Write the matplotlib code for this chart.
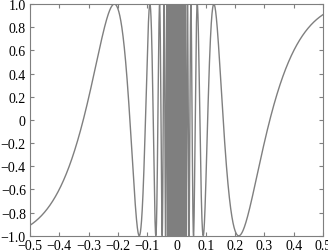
import numpy as np
import matplotlib
matplotlib.use("Agg")
import matplotlib.pyplot as plt

# plotted function: y = sin(1/x) on [-0.5, 0.5]
x_lo = -0.5
x_hi = 0.5
n_samples = 40001
x_ticks = [-0.5, -0.4, -0.3, -0.2, -0.1, 0, 0.1, 0.2, 0.3, 0.4, 0.5]
x_labels = ["\u22120.5", "\u22120.4", "\u22120.3", "\u22120.2", "\u22120.1", "0",
            "0.1", "0.2", "0.3", "0.4", "0.5"]
y_ticks = [-1.0, -0.8, -0.6, -0.4, -0.2, 0, 0.2, 0.4, 0.6, 0.8, 1.0]
y_labels = ["\u22121.0", "\u22120.8", "\u22120.6", "\u22120.4", "\u22120.2", "0",
            "0.2", "0.4", "0.6", "0.8", "1.0"]

x = np.linspace(x_lo, x_hi, n_samples)
x = x[x != 0]
y = np.sin(1.0 / x)

plt.rcParams['font.family'] = ['Liberation Serif', 'DejaVu Serif']
gray = '#7f7f7f'

fig = plt.figure(figsize=(3.28, 2.53), dpi=100)
ax = fig.add_axes([0.0915, 0.064, 0.8935, 0.916])
ax.plot(x, y, color=gray, linewidth=1.0)

ax.set_xlim(x_lo, x_hi)
ax.set_ylim(-1, 1)
ax.set_xticks(x_ticks)
ax.set_xticklabels(x_labels)
ax.set_yticks(y_ticks)
ax.set_yticklabels(y_labels)
ax.tick_params(direction='in', top=True, right=True, length=3, width=0.8,
               color=gray, labelsize=10)
ax.tick_params(axis='x', pad=2)
ax.tick_params(axis='y', pad=3)
for s in ax.spines.values():
    s.set_color(gray)
    s.set_linewidth(0.8)

fig.savefig("out.png", dpi=100)
